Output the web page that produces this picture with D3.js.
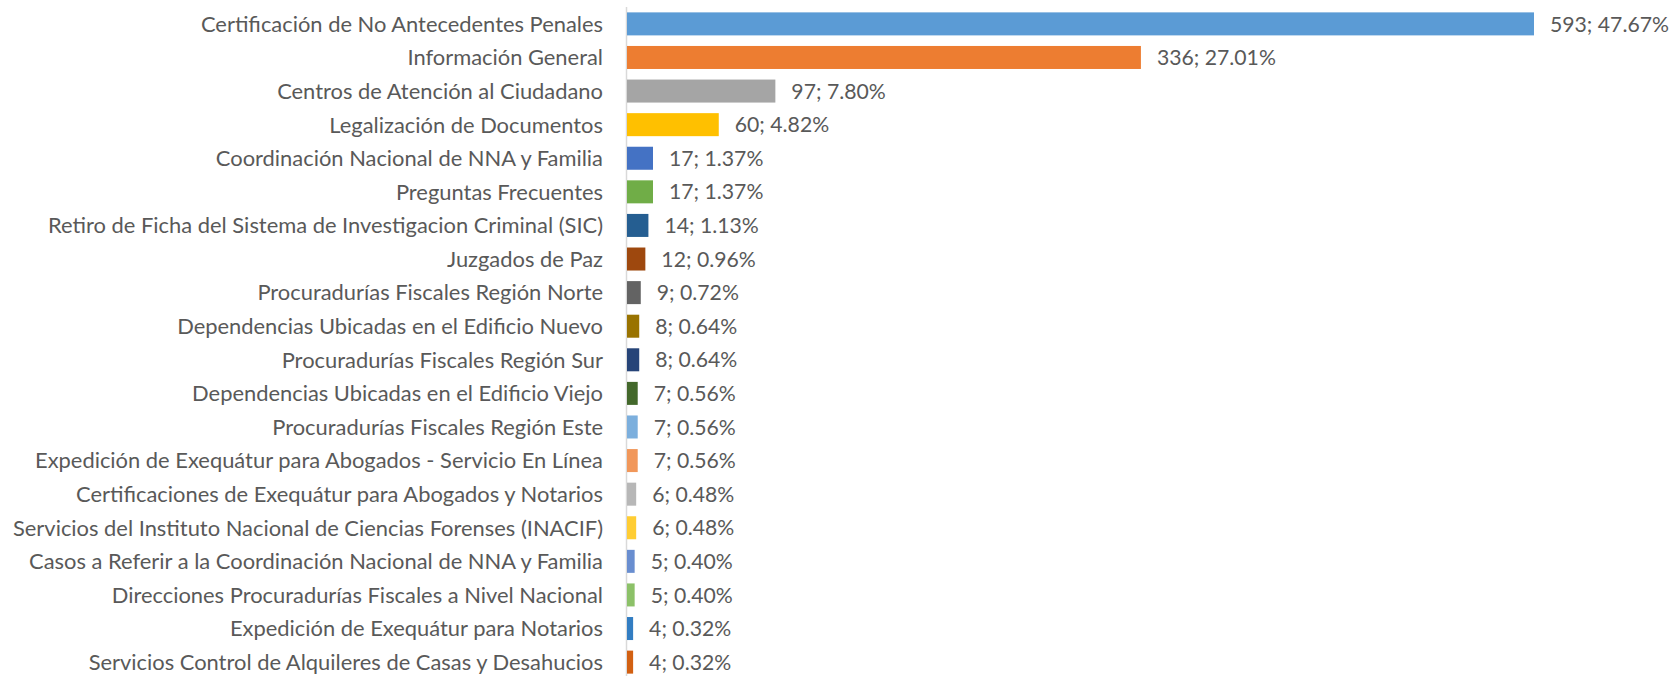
<!DOCTYPE html>
<html>
<head>
<meta charset="utf-8">
<script src="https://cdn.jsdelivr.net/npm/d3@7"></script>
<style>
  body { margin: 0; background: #fff; }
  svg text { font-family: Lato, "Open Sans", sans-serif; fill: #595959; }
</style>
</head>
<body>
<svg id="chart"></svg>
<script>
const categories = [
    "Certificación de No Antecedentes Penales",
    "Información General",
    "Centros de Atención al Ciudadano",
    "Legalización de Documentos",
    "Coordinación Nacional de NNA y Familia",
    "Preguntas Frecuentes",
    "Retiro de Ficha del Sistema de Investigacion Criminal (SIC)",
    "Juzgados de Paz",
    "Procuradurías Fiscales Región Norte",
    "Dependencias Ubicadas en el Edificio Nuevo",
    "Procuradurías Fiscales Región Sur",
    "Dependencias Ubicadas en el Edificio Viejo",
    "Procuradurías Fiscales Región Este",
    "Expedición de Exequátur para Abogados - Servicio En Línea",
    "Certificaciones de Exequátur para Abogados y Notarios",
    "Servicios del Instituto Nacional de Ciencias Forenses (INACIF)",
    "Casos a Referir a la Coordinación Nacional de NNA y Familia",
    "Direcciones Procuradurías Fiscales a Nivel Nacional",
    "Expedición de Exequátur para Notarios",
    "Servicios Control de Alquileres de Casas y Desahucios"
];
const counts = [593, 336, 97, 60, 17, 17, 14, 12, 9, 8, 8, 7, 7, 7, 6, 6, 5, 5, 4, 4];
const percents = ["47.67%", "27.01%", "7.80%", "4.82%", "1.37%", "1.37%", "1.13%", "0.96%", "0.72%", "0.64%",
    "0.64%", "0.56%", "0.56%", "0.56%", "0.48%", "0.48%", "0.40%", "0.40%", "0.32%", "0.32%"];
const colors = ["#5B9BD5", "#ED7D31", "#A5A5A5", "#FFC000", "#4472C4", "#70AD47", "#255E91", "#9E480E",
    "#636363", "#997300", "#264478", "#43682B", "#7CAFDD", "#F1975A", "#B7B7B7", "#FFCD33",
    "#698ED0", "#8CC168", "#327DC2", "#D26012"];

const width = 1672;
const height = 676;
const svg = d3.select("#chart").attr("width", width).attr("height", height);

const rows = categories.map((name, i) => ({ name, count: counts[i], pct: percents[i], color: colors[i] }));

const x = d3.scaleLinear()
    .domain([0, d3.max(counts)])
    .range([627, 1534]);

const y = d3.scaleBand()
    .domain(categories)
    .range([7, 679])
    .paddingInner(0.315)
    .paddingOuter(0.16);

// category axis line
svg.append("line")
    .attr("x1", 626.5).attr("x2", 626.5)
    .attr("y1", 7).attr("y2", height)
    .attr("stroke", "#d9d9d9")
    .attr("stroke-width", 1.5);

svg.append("g")
    .selectAll("rect")
    .data(rows)
    .enter()
    .append("rect")
    .attr("x", x(0))
    .attr("y", d => y(d.name))
    .attr("width", d => x(d.count) - x(0))
    .attr("height", y.bandwidth())
    .attr("fill", d => d.color);

svg.append("g")
    .selectAll("text")
    .data(rows)
    .enter()
    .append("text")
    .attr("x", 603)
    .attr("y", d => y(d.name) + y.bandwidth() / 2)
    .attr("dy", "0.36em")
    .attr("text-anchor", "end")
    .style("font-size", "21.9px")
    .text(d => d.name);

svg.append("g")
    .selectAll("text")
    .data(rows)
    .enter()
    .append("text")
    .attr("x", d => x(d.count) + 16)
    .attr("y", d => y(d.name) + y.bandwidth() / 2)
    .attr("dy", "0.36em")
    .style("font-size", "21.2px")
    .text(d => `${d.count}; ${d.pct}`);
</script>
</body>
</html>
